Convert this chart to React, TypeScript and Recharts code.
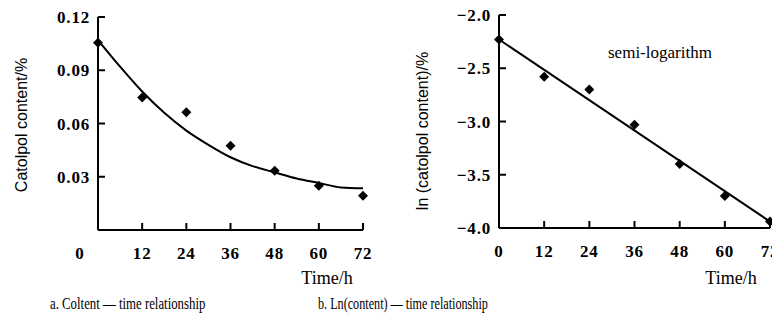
import { ComposedChart, Label, Line, Scatter, XAxis, YAxis } from "recharts";

// sampling times (h)
const sampleTimes = [0, 12, 24, 36, 48, 60, 72];
const timeTicks = [0, 12, 24, 36, 48, 60, 72];

// a. catolpol content (%)
const contentValues = [0.1055, 0.0746, 0.0664, 0.0475, 0.0334, 0.0249, 0.0193];
const contentTicks = [0.03, 0.06, 0.09, 0.12];
const fitTimes = [0, 6, 12, 18, 24, 30, 36, 42, 48, 54, 60, 66, 72];
const contentFit = [0.107, 0.092, 0.078, 0.066, 0.056, 0.048, 0.041, 0.036, 0.0325, 0.029, 0.0265, 0.024, 0.0235];

// b. ln(content)
const lnValues = [-2.23, -2.58, -2.7, -3.03, -3.4, -3.7, -3.94];
const lnTicks = [-4, -3.5, -3, -2.5, -2];
const lnFitTimes = [0, 72];
const lnFit = [-2.23, -3.94];

const contentPoints = sampleTimes.map((t, i) => ({ t, v: contentValues[i] }));
const contentCurve = fitTimes.map((t, i) => ({ t, v: contentFit[i] }));
const lnPoints = sampleTimes.map((t, i) => ({ t, v: lnValues[i] }));
const lnLine = lnFitTimes.map((t, i) => ({ t, v: lnFit[i] }));

const tickFont = {
  fontFamily: "'Liberation Serif', serif",
  fontSize: 17,
  fontWeight: 700,
  letterSpacing: 0.8,
  fill: "#000",
};
const titleFont = { fontFamily: "'Liberation Sans', Arial, sans-serif", fontSize: 16, fill: "#000" };
const timeFont = { fontFamily: "'Liberation Serif', serif", fontSize: 18, fill: "#000" };

const axisLine = { stroke: "#000", strokeWidth: 2 };

const Diamond = (props: any) => {
  const { cx, cy } = props;
  const r = 5;
  return <polygon points={`${cx},${cy - r} ${cx + r},${cy} ${cx},${cy + r} ${cx - r},${cy}`} fill="#000" />;
};

const makeXTick = (shiftZero: boolean) => (props: any) => {
  const { x, y, payload } = props;
  const lx = shiftZero && payload.value === 0 ? x - 18 : x;
  return (
    <g>
      {payload.value !== 0 && <line x1={x} x2={x} y1={y} y2={y - 7} stroke="#000" strokeWidth={2} />}
      <text x={lx} y={y + 29} textAnchor="middle" {...tickFont}>
        {payload.value}
      </text>
    </g>
  );
};

const makeYTick = (fmt: (v: number) => string) => (props: any) => {
  const { x, y, payload } = props;
  return (
    <g>
      <line x1={x} x2={x + 7} y1={y} y2={y} stroke="#000" strokeWidth={2} />
      <text x={x - 8} y={y + 6} textAnchor="end" {...tickFont}>
        {fmt(payload.value)}
      </text>
    </g>
  );
};

const fmtContent = (v: number) => v.toFixed(2);
const fmtLn = (v: number) => v.toFixed(1).replace("-", "\u2212");

const captionStyle = {
  position: "absolute" as const,
  top: 296,
  fontFamily: "'Liberation Serif', serif",
  fontSize: 16,
  lineHeight: "16px",
  whiteSpace: "nowrap" as const,
  transformOrigin: "left center",
};

export default function App() {
  return (
    <div style={{ position: "absolute", left: 0, top: 0, width: 772, height: 328, background: "#fff" }}>
      <div style={{ position: "absolute", left: 0, top: 0 }}>
        <ComposedChart width={386} height={290} margin={{ top: 17, right: 23, bottom: 0, left: 0 }}>
          <XAxis
            type="number"
            dataKey="t"
            domain={[0, 72]}
            ticks={timeTicks}
            height={60}
            axisLine={axisLine}
            tickLine={false}
            tickSize={0}
            tickMargin={0}
            tick={makeXTick(true)}
            interval={0}
          >
            <Label
              content={() => (
                <text x={327} y={284} textAnchor="middle" {...timeFont}>
                  Time/h
                </text>
              )}
            />
          </XAxis>
          <YAxis
            type="number"
            domain={[0, 0.12]}
            ticks={contentTicks}
            width={98}
            axisLine={axisLine}
            tickLine={false}
            tickSize={0}
            tickMargin={0}
            tick={makeYTick(fmtContent)}
            interval={0}
          >
            <Label
              content={() => (
                <text transform="translate(27,125) rotate(-90)" textAnchor="middle" {...titleFont}>
                  Catolpol content/%
                </text>
              )}
            />
          </YAxis>
          <Line
            data={contentCurve}
            dataKey="v"
            type="monotone"
            stroke="#000"
            strokeWidth={2}
            dot={false}
            isAnimationActive={false}
          />
          <Scatter data={contentPoints} dataKey="v" shape={Diamond} isAnimationActive={false} />
        </ComposedChart>
      </div>
      <div style={{ position: "absolute", left: 386, top: 0 }}>
        <ComposedChart width={386} height={290} margin={{ top: 15, right: 2, bottom: 0, left: 0 }}>
          <XAxis
            type="number"
            dataKey="t"
            domain={[0, 72]}
            ticks={timeTicks}
            height={62}
            axisLine={axisLine}
            tickLine={false}
            tickSize={0}
            tickMargin={0}
            tick={makeXTick(false)}
            interval={0}
          >
            <Label
              content={() => (
                <text x={345} y={284} textAnchor="middle" {...timeFont}>
                  Time/h
                </text>
              )}
            />
          </XAxis>
          <YAxis
            type="number"
            domain={[-4, -2]}
            ticks={lnTicks}
            width={113}
            axisLine={axisLine}
            tickLine={false}
            tickSize={0}
            tickMargin={0}
            tick={makeYTick(fmtLn)}
            interval={0}
          >
            <Label
              content={() => (
                <text transform="translate(42,131) rotate(-90)" textAnchor="middle" {...titleFont}>
                  ln (catolpol content)/%
                </text>
              )}
            />
          </YAxis>
          <Line
            data={lnLine}
            dataKey="v"
            type="linear"
            stroke="#000"
            strokeWidth={2}
            dot={false}
            isAnimationActive={false}
          />
          <Scatter data={lnPoints} dataKey="v" shape={Diamond} isAnimationActive={false} />
        </ComposedChart>
      </div>
      <div
        style={{
          position: "absolute",
          left: 608,
          top: 44,
          fontFamily: "'Liberation Serif', serif",
          fontSize: 17,
          lineHeight: "17px",
          whiteSpace: "nowrap",
        }}
      >
        semi-logarithm
      </div>
      <div style={{ ...captionStyle, left: 50, transform: "scaleX(0.8)" }}>a. Coltent — time relationship</div>
      <div style={{ ...captionStyle, left: 318, transform: "scaleX(0.76)" }}>b. Ln(content) — time relationship</div>
    </div>
  );
}
